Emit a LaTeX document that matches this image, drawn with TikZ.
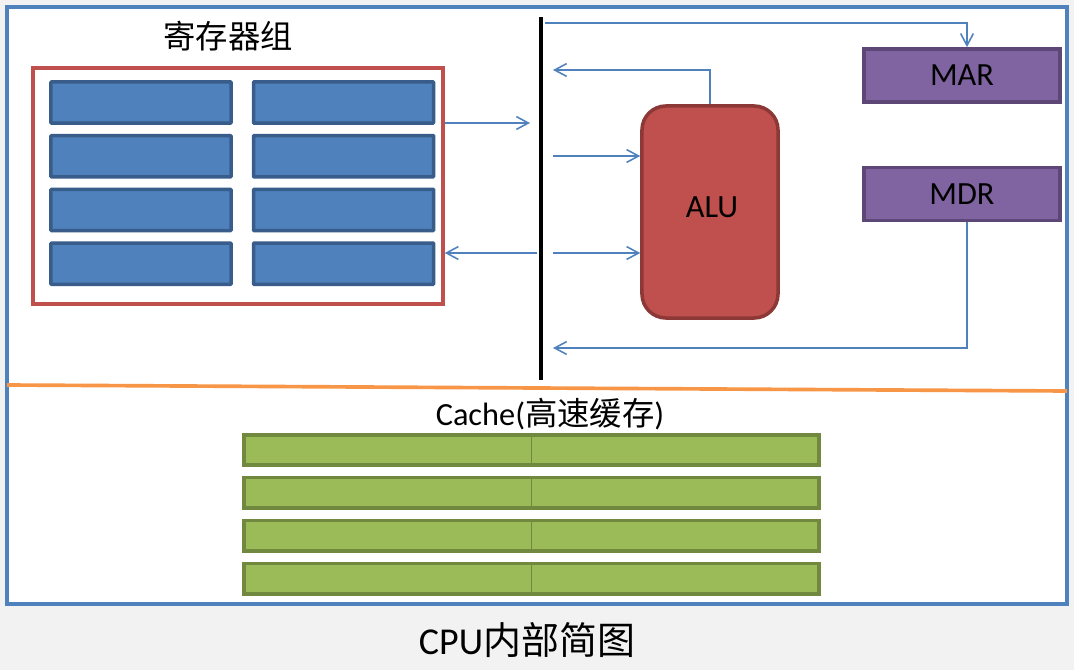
\documentclass[tikz,border=0pt]{standalone}
\usepackage{fontspec}
\setmainfont{Carlito}
\newfontfamily\cjk{Noto Sans CJK SC}
\usetikzlibrary{positioning, arrows.meta}
\definecolor{pagegray}{HTML}{F2F2F2}
\definecolor{frameblue}{HTML}{4F81BD}
\definecolor{regblue}{HTML}{4F81BD}
\definecolor{regedge}{HTML}{385D8A}
\definecolor{filered}{HTML}{C0504D}
\definecolor{alufill}{HTML}{C0504D}
\definecolor{aluedge}{HTML}{8C3836}
\definecolor{mfill}{HTML}{8064A2}
\definecolor{medge}{HTML}{5C4776}
\definecolor{cfill}{HTML}{9BBB59}
\definecolor{cedge}{HTML}{71893F}
\definecolor{splitorange}{HTML}{F79646}

\tikzset{
    reg/.style={draw=regedge, fill=regblue, line width=2.5pt, inner sep=0pt,
        rounded corners=0.5pt, minimum width=4.5cm, minimum height=1.03cm},
    cacheline/.style={draw=cedge, fill=cfill, line width=2.5pt, inner sep=0pt,
        minimum width=14.38cm, minimum height=0.76cm},
    mreg/.style={draw=medge, fill=mfill, line width=2.5pt, inner sep=0pt,
        minimum width=4.9cm, minimum height=1.33cm,
        font=\fontsize{23pt}{26pt}\selectfont},
    link/.style={draw=frameblue, line width=1.1pt,
        -{Straight Barb[length=3mm, width=3.2mm]}},
}

\begin{document}
\begin{tikzpicture}[x=0.025cm, y=-0.025cm]
        % page and cpu frame
        \fill[pagegray] (0,0) rectangle (1074,670);
        \useasboundingbox (0,0) rectangle (1074,670);
        \draw[frameblue, line width=2.4pt, fill=white] (7,7) rectangle (1067,604);
        \draw[splitorange, line width=2.6pt] (7,385) -- (1067,391);

        % register file
        \node[font=\fontsize{23pt}{26pt}\selectfont\cjk] (regtitle) at (228,36) {寄存器组};
        \node[draw=filered, line width=2.4pt, inner sep=0pt,
            minimum width=10.25cm, minimum height=5.9cm] (regfile) at (238,186) {};
        \node[reg] (r11) at (141,102.5) {};
        \node[reg, right=0.475cm of r11] (r12) {};
        \node[reg, below=0.225cm of r11] (r21) {};
        \node[reg, right=0.475cm of r21] (r22) {};
        \node[reg, below=0.225cm of r21] (r31) {};
        \node[reg, right=0.475cm of r31] (r32) {};
        \node[reg, below=0.225cm of r31] (r41) {};
        \node[reg, right=0.475cm of r41] (r42) {};

        % internal bus
        \node[fill=black, inner sep=0pt, minimum width=0.12cm,
            minimum height=9.075cm] (bus) at (541,198.5) {};

        % alu and memory registers
        \node[draw=aluedge, fill=alufill, line width=2.5pt, rounded corners=0.6cm,
            minimum width=3.4cm, minimum height=5.3cm,
            font=\fontsize{23pt}{26pt}\selectfont] (alu) at (710,212) {};
        \node[font=\fontsize{23pt}{26pt}\selectfont] (alulabel) at (712,207) {ALU};
        \node[mreg] (mar) at (962,75.5) {MAR};
        \node[mreg] (mdr) at (962,194) {MDR};

        \coordinate (busmar) at (545,23);
        \coordinate (busalu) at (553,70);
        \coordinate (busreg) at (530,123);
        \coordinate (aluina) at (553,156);
        \coordinate (aluinb) at (553,253);
        \coordinate (regret) at (537,253);
        \coordinate (busmdr) at (553,348);
        \draw[link] (busmar) -| ([xshift=0.125cm]mar.north);
        \draw[link] (alu.north) |- (busalu);
        \draw[link] (regfile.east |- busreg) -- (busreg);
        \draw[link] (aluina) -- (alu.west |- aluina);
        \draw[link] (aluinb) -- (alu.west |- aluinb);
        \draw[link] (regret) -- (regfile.east |- regret);
        \draw[link] ([xshift=0.125cm]mdr.south) |- (busmdr);

        % cache
        \node[font=\fontsize{23pt}{26pt}\selectfont] (cachetitle) at (550,414) {Cache({\cjk 高速缓存})};
        \node[cacheline] (c1) at (531.5,450) {};
        \node[cacheline, below=0.225cm of c1] (c2) {};
        \node[cacheline, below=0.225cm of c2] (c3) {};
        \node[cacheline, below=0.225cm of c3] (c4) {};
        \draw[cedge, line width=1pt] (c1.north) -- (c1.south);
        \draw[cedge, line width=1pt] (c2.north) -- (c2.south);
        \draw[cedge, line width=1pt] (c3.north) -- (c3.south);
        \draw[cedge, line width=1pt] (c4.north) -- (c4.south);

        \node[font=\fontsize{27pt}{30pt}\selectfont] (caption) at (527,640) {CPU{\cjk 内部简图}};
    \end{tikzpicture}
\end{document}
